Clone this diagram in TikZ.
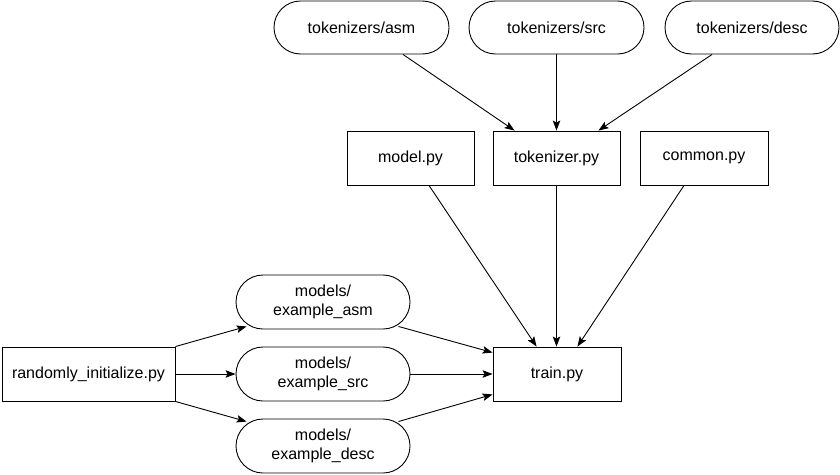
\documentclass[tikz,border=0pt]{standalone}
\usepackage{fontspec}
\setmainfont{Liberation Sans}
\usetikzlibrary{arrows.meta,calc}
\begin{document}
\begin{tikzpicture}[x=1pt,y=1pt,
  box/.style={draw,line width=0.9pt,minimum width=127pt,minimum height=54pt,inner sep=0pt,font=\fontsize{16}{19.5}\selectfont,align=center},
  pill/.style={box,rounded corners=26.5pt,minimum width=175pt,minimum height=53pt},
  conn/.style={line width=0.9pt,-{Stealth[length=10pt,width=7.5pt,inset=2pt]}}]
\useasboundingbox (0,0) rectangle (840,-474);
\node[pill] (tasm) at (361.5,-27.5) {tokenizers/asm};
\node[pill] (tsrc) at (556.5,-27.5) {tokenizers/src};
\node[pill,minimum width=174pt] (tdesc) at (752,-27.5) {tokenizers/desc};
\node[box] (model) at (410.5,-158) {model.py};
\node[box] (tok) at (556.5,-158) {tokenizer.py};
\node[box,minimum width=128pt] (common) at (704,-158) {common.py};
\node[box,minimum width=128pt] (train) at (557,-374) {train.py};
\node[box,minimum width=173pt] (rand) at (88.5,-374) {randomly\_initialize.py};
\node[pill,minimum width=174pt,minimum height=54pt,rounded corners=27pt] (masm) at (323,-302) {models/\\example\_asm};
\node[pill,minimum width=174pt,minimum height=54pt,rounded corners=27pt] (msrc) at (323,-374) {models/\\example\_src};
\node[pill,minimum width=174pt,minimum height=54pt,rounded corners=27pt] (mdesc) at (323,-446) {models/\\example\_desc};
\draw[conn] ($(tasm.south)+(41.5,0)$) -- ($(tok.north west)+(22,0)$);
\draw[conn] (tsrc.south) -- (tok.north);
\draw[conn] ($(tdesc.south)+(-40,0)$) -- ($(tok.north east)+(-22,0)$);
\draw[conn] ($(model.south)+(18.5,0)$) -- ($(train.north west)+(44,0)$);
\draw[conn] (tok.south) -- ($(train.north)+(-0.5,0)$);
\draw[conn] ($(common.south)+(-20,0)$) -- ($(train.north east)+(-44,0)$);
\draw[conn] (rand.north east) -- ($(masm.south west)+(11,3)$);
\draw[conn] (rand.east) -- (msrc.west);
\draw[conn] (rand.south east) -- ($(mdesc.north west)+(11,-3)$);
\draw[conn] ($(masm.south east)+(-12,3)$) -- ($(train.north west)+(0,-6)$);
\draw[conn] (msrc.east) -- (train.west);
\draw[conn] ($(mdesc.north east)+(-12,-3)$) -- ($(train.south west)+(0,7)$);
\end{tikzpicture}
\end{document}
